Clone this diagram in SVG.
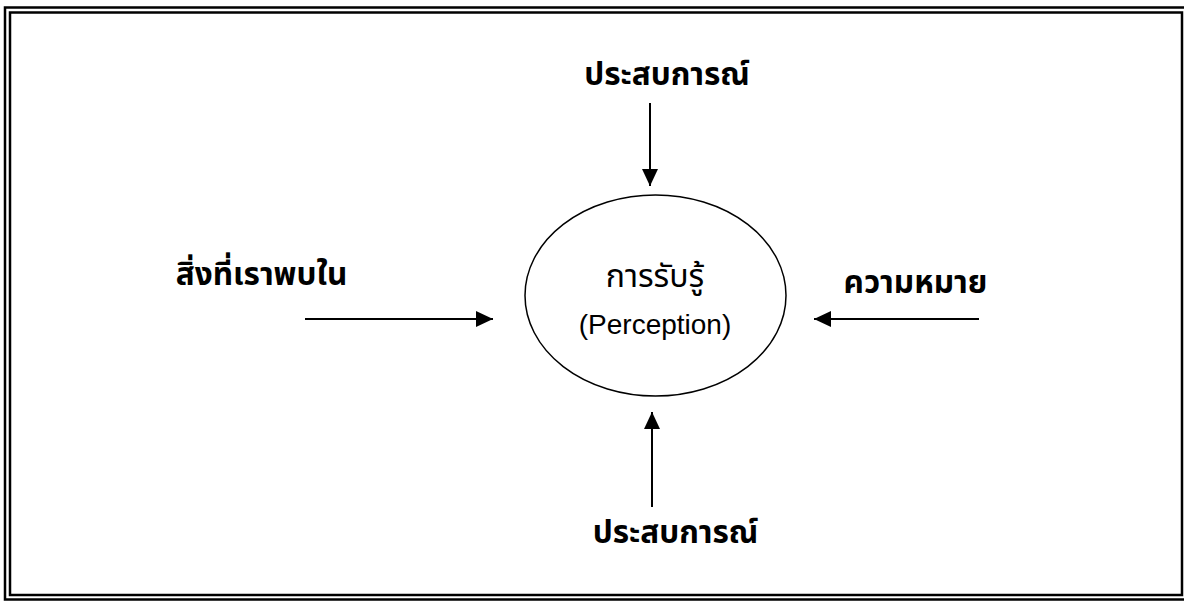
<svg xmlns="http://www.w3.org/2000/svg" width="1184" height="601" viewBox="0 0 1184 601">
  <style>
    .frame { fill: none; stroke: #000; stroke-width: 2.5; }
    .label { font-family: "Noto Sans Thai", "Noto Sans", "DejaVu Sans", sans-serif; font-size: 31.5px; font-weight: bold; fill: #000; text-anchor: middle; }
    .inner-th { font-family: "Noto Sans Thai", "Noto Sans", "DejaVu Sans", sans-serif; font-size: 32px; fill: #000; text-anchor: middle; }
    .inner-en { font-family: "Liberation Sans", Arial, sans-serif; font-size: 28px; fill: #000; text-anchor: middle; }
    .conn { stroke: #000; stroke-width: 2; fill: none; marker-end: url(#head); }
  </style>
  <defs>
    <marker id="head" markerUnits="userSpaceOnUse" markerWidth="18" markerHeight="18" viewBox="0 0 18 18" refX="17" refY="9" orient="auto">
      <path d="M0,1 L17,9 L0,17 Z" fill="#000"/>
    </marker>
  </defs>
  <rect width="1184" height="601" fill="#fff"/>

  <!-- double frame -->
  <g id="frame">
    <rect class="frame" x="5" y="7.5" width="1184" height="592"/>
    <rect class="frame" x="10" y="12.5" width="1172" height="582.5"/>
  </g>

  <!-- central node -->
  <g id="perception">
    <ellipse cx="655.5" cy="295.5" rx="130.5" ry="100.5" fill="none" stroke="#000" stroke-width="1.5"/>
    <text class="inner-th" x="655" y="287">การรับรู้</text>
    <text class="inner-en" x="655" y="334">(Perception)</text>
  </g>

  <g id="experience-top">
    <text class="label" x="667" y="85">ประสบการณ์</text>
  </g>
  <g id="encountered">
    <text class="label" x="261.5" y="285">สิ่งที่เราพบใน</text>
  </g>
  <g id="meaning">
    <text class="label" x="915.5" y="293">ความหมาย</text>
  </g>
  <g id="experience-bottom">
    <text class="label" x="675.5" y="543">ประสบการณ์</text>
  </g>

  <!-- connectors -->
  <g id="connectors">
    <line class="conn" x1="650" y1="103" x2="650" y2="186"/>
    <line class="conn" x1="305" y1="319" x2="493" y2="319"/>
    <line class="conn" x1="979" y1="319" x2="814" y2="319"/>
    <line class="conn" x1="652" y1="507" x2="652" y2="412"/>
  </g>
</svg>
